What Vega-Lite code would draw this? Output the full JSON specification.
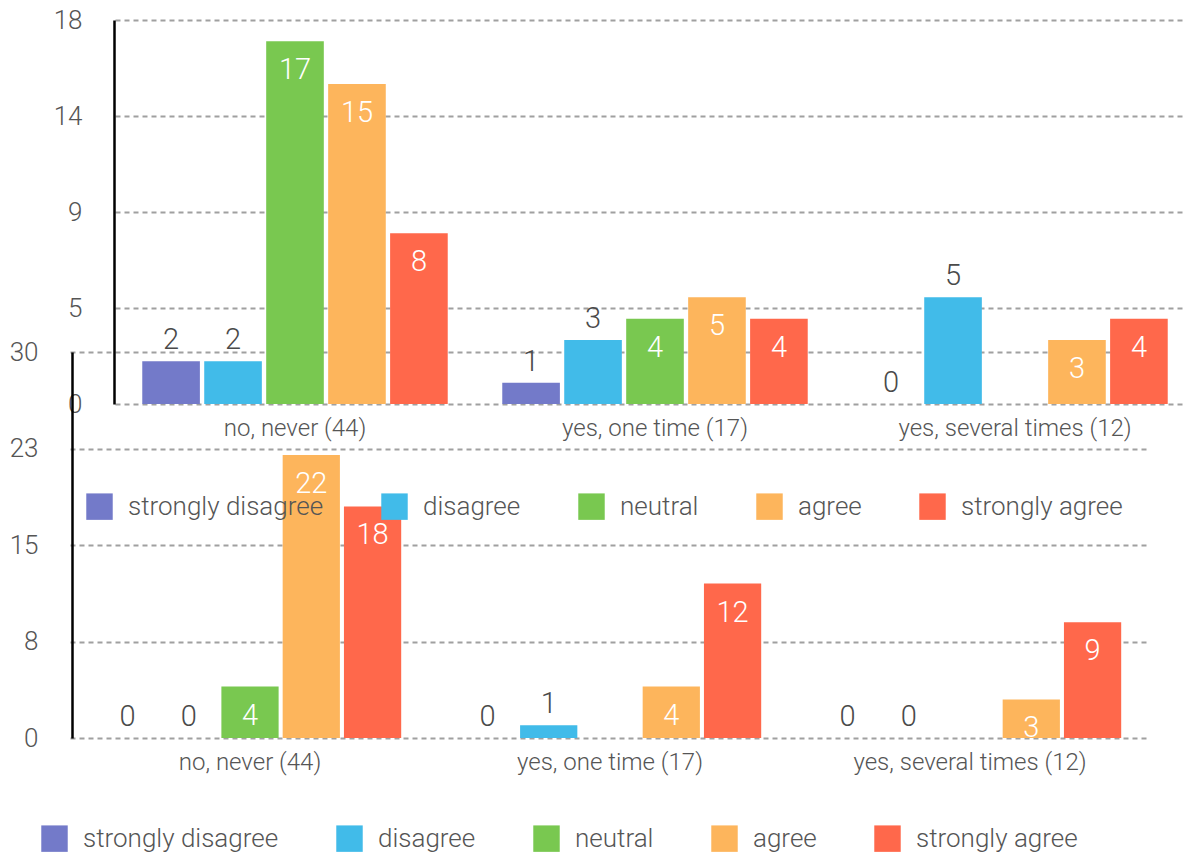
{
  "$schema": "https://vega.github.io/schema/vega-lite/v6.json",
  "width": 1186,
  "height": 852,
  "autosize": {"type": "none"},
  "padding": 0,
  "background": "white",
  "config": {
    "view": {"stroke": null},
    "font": "Roboto",
    "axis": {"labelFont": "Roboto", "labelFontWeight": 300, "labelColor": "#555555", "title": null},
    "legend": {"labelFont": "Roboto", "labelFontWeight": 300},
    "text": {"font": "Roboto", "fontWeight": 300}
  },
  "datasets": {
    "top": [
      {"group": "no, never (44)", "answer": "strongly disagree", "count": 2},
      {"group": "no, never (44)", "answer": "disagree", "count": 2},
      {"group": "no, never (44)", "answer": "neutral", "count": 17},
      {"group": "no, never (44)", "answer": "agree", "count": 15},
      {"group": "no, never (44)", "answer": "strongly agree", "count": 8},
      {"group": "yes, one time (17)", "answer": "strongly disagree", "count": 1},
      {"group": "yes, one time (17)", "answer": "disagree", "count": 3},
      {"group": "yes, one time (17)", "answer": "neutral", "count": 4},
      {"group": "yes, one time (17)", "answer": "agree", "count": 5},
      {"group": "yes, one time (17)", "answer": "strongly agree", "count": 4},
      {"group": "yes, several times (12)", "answer": "strongly disagree", "count": 0},
      {"group": "yes, several times (12)", "answer": "disagree", "count": 5},
      {"group": "yes, several times (12)", "answer": "agree", "count": 3},
      {"group": "yes, several times (12)", "answer": "strongly agree", "count": 4}
    ],
    "bottom": [
      {"group": "no, never (44)", "answer": "strongly disagree", "count": 0},
      {"group": "no, never (44)", "answer": "disagree", "count": 0},
      {"group": "no, never (44)", "answer": "neutral", "count": 4},
      {"group": "no, never (44)", "answer": "agree", "count": 22},
      {"group": "no, never (44)", "answer": "strongly agree", "count": 18},
      {"group": "yes, one time (17)", "answer": "strongly disagree", "count": 0},
      {"group": "yes, one time (17)", "answer": "disagree", "count": 1},
      {"group": "yes, one time (17)", "answer": "agree", "count": 4},
      {"group": "yes, one time (17)", "answer": "strongly agree", "count": 12},
      {"group": "yes, several times (12)", "answer": "strongly disagree", "count": 0},
      {"group": "yes, several times (12)", "answer": "disagree", "count": 0},
      {"group": "yes, several times (12)", "answer": "agree", "count": 3},
      {"group": "yes, several times (12)", "answer": "strongly agree", "count": 9}
    ]
  },
  "layer": [
    {
      "data": {"name": "top"},
      "encoding": {
        "x": {
          "field": "group", "type": "nominal",
          "sort": ["no, never (44)", "yes, one time (17)", "yes, several times (12)"],
          "scale": {"range": [115, 1195], "paddingInner": 0, "paddingOuter": 0},
          "axis": {"orient": "bottom", "offset": -448, "domain": false, "ticks": false, "tickSize": 0, "labelPadding": 12, "labelFontSize": 24, "labelLimit": 600, "labelAngle": 0, "grid": false}
        },
        "xOffset": {
          "field": "answer", "type": "nominal",
          "sort": ["strongly disagree", "disagree", "neutral", "agree", "strongly agree"],
          "scale": {"domain": ["strongly disagree", "disagree", "neutral", "agree", "strongly agree"], "paddingInner": 0.07, "paddingOuter": 0.44}
        },
        "y": {
          "field": "count", "type": "quantitative",
          "scale": {"domain": [0, 18], "range": [404, 20], "nice": false, "zero": true},
          "axis": {"orient": "left", "offset": -114, "values": [0, 4.5, 9, 13.5, 18], "format": ".0f", "domain": true, "domainColor": "#000000", "domainWidth": 2.5, "ticks": false, "tickSize": 0, "labelPadding": 32, "labelFontSize": 26, "grid": true, "gridColor": "#a0a0a0", "gridDash": [5, 4], "gridWidth": 2}
        }
      },
      "layer": [
        {
          "mark": {"type": "bar"},
          "encoding": {
            "color": {
              "field": "answer", "type": "nominal",
              "scale": {"domain": ["strongly disagree", "disagree", "neutral", "agree", "strongly agree"], "range": ["#737AC9", "#41BBE9", "#79C850", "#FDB55C", "#FF684B"]},
              "legend": {"orient": "none", "legendX": 86, "legendY": 493, "direction": "horizontal", "title": null, "symbolType": "square", "symbolSize": 700, "symbolStrokeWidth": 0, "symbolOpacity": 1, "labelFontSize": 26, "labelColor": "#555555", "labelOffset": 15, "columnPadding": 57, "padding": 0, "labelLimit": 400}
            }
          }
        },
        {
          "transform": [{"filter": "datum.answer === 'strongly disagree' || datum.answer === 'disagree'"}],
          "mark": {"type": "text", "baseline": "alphabetic", "dy": -12, "fontSize": 29, "color": "#4a4a4a"},
          "encoding": {"text": {"field": "count", "type": "quantitative"}}
        },
        {
          "transform": [{"filter": "datum.answer !== 'strongly disagree' && datum.answer !== 'disagree'"}],
          "mark": {"type": "text", "baseline": "alphabetic", "dy": 38, "fontSize": 29, "color": "#ffffff"},
          "encoding": {"text": {"field": "count", "type": "quantitative"}}
        }
      ]
    },
    {
      "data": {"name": "bottom"},
      "encoding": {
        "x": {
          "field": "group", "type": "nominal",
          "sort": ["no, never (44)", "yes, one time (17)", "yes, several times (12)"],
          "scale": {"range": [70, 1150], "paddingInner": 0, "paddingOuter": 0},
          "axis": {"orient": "bottom", "offset": -114, "domain": false, "ticks": false, "tickSize": 0, "labelPadding": 12, "labelFontSize": 24, "labelLimit": 600, "labelAngle": 0, "grid": false}
        },
        "xOffset": {
          "field": "answer", "type": "nominal",
          "sort": ["strongly disagree", "disagree", "neutral", "agree", "strongly agree"],
          "scale": {"domain": ["strongly disagree", "disagree", "neutral", "agree", "strongly agree"], "paddingInner": 0.066, "paddingOuter": 0.47}
        },
        "y": {
          "field": "count", "type": "quantitative",
          "scale": {"domain": [0, 30], "range": [738, 352], "nice": false, "zero": true},
          "axis": {"orient": "left", "offset": -72, "values": [0, 7.5, 15, 22.5, 30], "format": ".0f", "domain": true, "domainColor": "#000000", "domainWidth": 2.5, "ticks": false, "tickSize": 0, "labelPadding": 34, "labelFontSize": 26, "grid": true, "gridColor": "#a0a0a0", "gridDash": [5, 4], "gridWidth": 2}
        }
      },
      "layer": [
        {
          "mark": {"type": "bar"},
          "encoding": {
            "color": {
              "field": "answer", "type": "nominal",
              "scale": {"domain": ["strongly disagree", "disagree", "neutral", "agree", "strongly agree"], "range": ["#737AC9", "#41BBE9", "#79C850", "#FDB55C", "#FF684B"]},
              "legend": {"orient": "none", "legendX": 41, "legendY": 825, "direction": "horizontal", "title": null, "symbolType": "square", "symbolSize": 700, "symbolStrokeWidth": 0, "symbolOpacity": 1, "labelFontSize": 26, "labelColor": "#555555", "labelOffset": 15, "columnPadding": 57, "padding": 0, "labelLimit": 400}
            }
          }
        },
        {
          "transform": [{"filter": "datum.answer === 'strongly disagree' || datum.answer === 'disagree'"}],
          "mark": {"type": "text", "baseline": "alphabetic", "dy": -12, "fontSize": 29, "color": "#4a4a4a"},
          "encoding": {"text": {"field": "count", "type": "quantitative"}}
        },
        {
          "transform": [{"filter": "datum.answer !== 'strongly disagree' && datum.answer !== 'disagree'"}],
          "mark": {"type": "text", "baseline": "alphabetic", "dy": 38, "fontSize": 29, "color": "#ffffff"},
          "encoding": {"text": {"field": "count", "type": "quantitative"}}
        }
      ]
    }
  ],
  "resolve": {"scale": {"x": "independent", "y": "independent", "xOffset": "independent", "color": "independent"}, "axis": {"x": "independent", "y": "independent"}, "legend": {"color": "independent"}}
}
